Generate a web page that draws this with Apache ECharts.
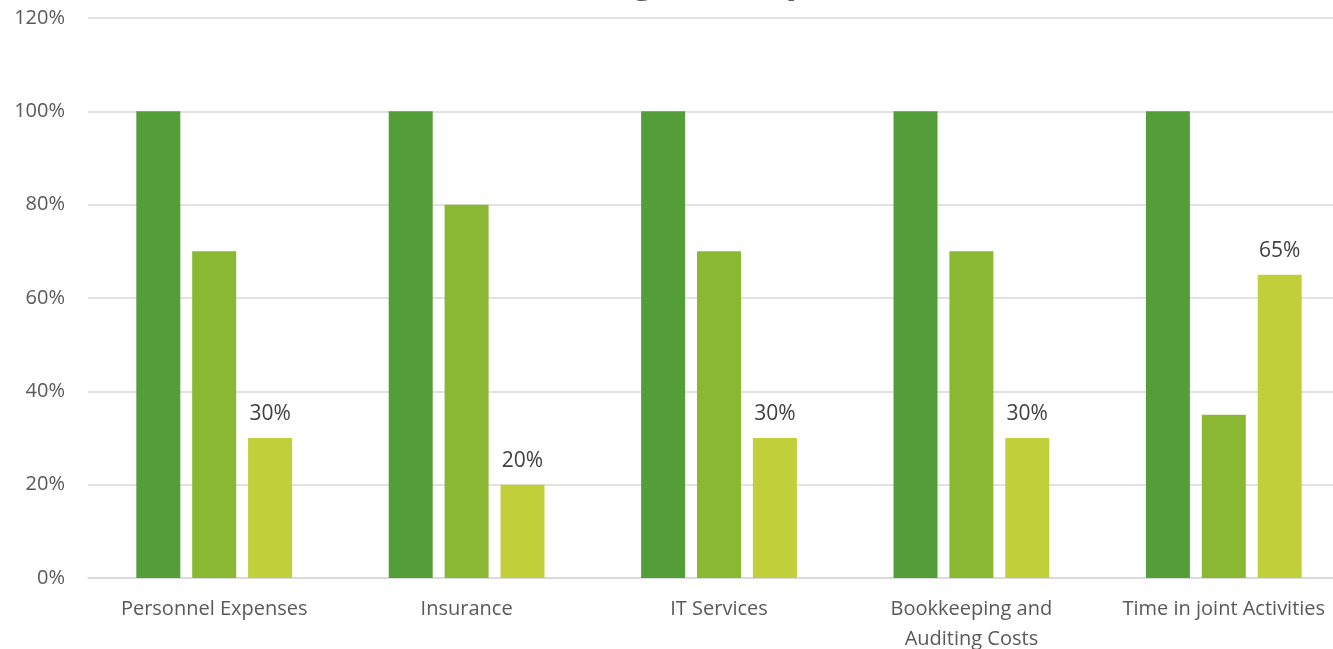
<!DOCTYPE html>
<html><head><meta charset="utf-8">
<script src="https://cdn.jsdelivr.net/npm/echarts@6/dist/echarts.min.js"></script>
<style>html,body{margin:0;padding:0;background:#fff}#c{width:1333px;height:649px}</style>
</head><body><div id="c"></div>
<script>
const categories = ['Personnel Expenses', 'Insurance', 'IT Services', 'Bookkeeping and\nAuditing Costs', 'Time in joint Activities'];
const seriesA = [100, 100, 100, 100, 100];
const seriesB = [70, 80, 70, 70, 35];
const seriesC = [30, 20, 30, 30, 65];
const yTicks = { min: 0, max: 120, interval: 20 };
const colors = ['#549E39', '#8AB833', '#C0CF3A'];

const chart = echarts.init(document.getElementById('c'));
const font = '"Open Sans", sans-serif';
chart.setOption({
  animation: false,
  title: {
    text: 'Cost Sharing Development',
    left: 'center',
    top: -36,
    padding: [0, 0, 0, 50],
    textStyle: { fontFamily: font, fontSize: 36, fontWeight: 'bold', color: '#595959' }
  },
  grid: { left: 88, right: -17, top: 18, bottom: 71, containLabel: false, outerBoundsMode: 'none' },
  xAxis: {
    type: 'category',
    data: categories,
    axisTick: { show: false },
    axisLine: { lineStyle: { color: '#d9d9d9', width: 1.5 } },
    axisLabel: { color: '#595959', fontFamily: font, fontSize: 20, margin: 16, lineHeight: 30, interval: 0 }
  },
  yAxis: {
    type: 'value',
    min: yTicks.min, max: yTicks.max, interval: yTicks.interval,
    axisLine: { show: false },
    axisTick: { show: false },
    splitLine: { lineStyle: { color: '#d9d9d9', width: 1.5 } },
    axisLabel: { formatter: '{value}%', color: '#595959', fontFamily: font, fontSize: 20, margin: 23 }
  },
  series: [
    { type: 'bar', data: seriesA, barWidth: 44, barGap: '27%', itemStyle: { color: colors[0] } },
    { type: 'bar', data: seriesB, barWidth: 44, barGap: '27%', itemStyle: { color: colors[1] } },
    { type: 'bar', data: seriesC, barWidth: 44, barGap: '27%', itemStyle: { color: colors[2] },
      label: { show: true, position: 'top', distance: 13, formatter: '{c}%', color: '#404040', fontFamily: font, fontSize: 21 } }
  ]
});
</script></body></html>
